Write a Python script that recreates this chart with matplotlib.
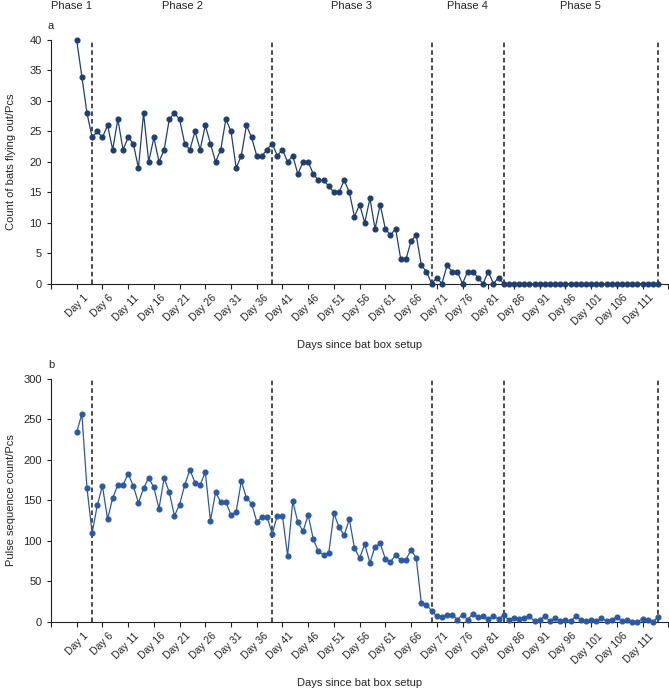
import numpy as np
import matplotlib
matplotlib.use("Agg")
import matplotlib.pyplot as plt
from matplotlib.transforms import ScaledTranslation

plt.rcParams['font.family'] = ['Liberation Sans', 'DejaVu Sans']

# days since the bat box was set up
days = np.arange(1, 115)

# panel a: count of bats flying out
bats_out = [40, 34, 28, 24, 25, 24, 26, 22, 27, 22,
            24, 23, 19, 28, 20, 24, 20, 22, 27, 28,
            27, 23, 22, 25, 22, 26, 23, 20, 22, 27,
            25, 19, 21, 26, 24, 21, 21, 22, 23, 21,
            22, 20, 21, 18, 20, 20, 18, 17, 17, 16,
            15, 15, 17, 15, 11, 13, 10, 14, 9, 13,
            9, 8, 9, 4, 4, 7, 8, 3, 2, 0,
            1, 0, 3, 2, 2, 0, 2, 2, 1, 0,
            2, 0, 1, 0, 0, 0, 0, 0, 0, 0,
            0, 0, 0, 0, 0, 0, 0, 0, 0, 0,
            0, 0, 0, 0, 0, 0, 0, 0, 0, 0,
            0, 0, 0, 0]

# panel b: pulse sequence count
pulse_seq = [234, 257, 165, 110, 144, 168, 127, 153, 169, 169,
             183, 168, 147, 165, 178, 166, 140, 178, 160, 131,
             145, 169, 188, 172, 169, 185, 125, 160, 148, 148,
             132, 136, 174, 153, 146, 124, 129, 130, 109, 131,
             131, 82, 149, 123, 112, 132, 102, 87, 83, 85,
             134, 117, 107, 127, 91, 79, 96, 73, 93, 97,
             78, 74, 83, 76, 77, 89, 79, 23, 21, 14,
             7, 6, 8, 9, 3, 9, 3, 10, 6, 7,
             4, 7, 4, 8, 3, 5, 4, 5, 7, 1,
             3, 7, 1, 5, 1, 3, 1, 7, 3, 1,
             2, 1, 5, 1, 3, 6, 1, 3, 0, 0,
             4, 3, 0, 6]

# phase boundaries (dashed lines) and labels
phase_bounds = [4, 39, 70, 84, 114]
phase_names = ["Phase 1", "Phase 2", "Phase 3", "Phase 4", "Phase 5"]
phase_label_x = [0, 21.5, 54.5, 77, 99]

tick_days = list(range(-4, 117, 5))
tick_labels = [f"Day {d}" if 1 <= d <= 111 else "" for d in tick_days]

text_col = '#262626'

fig = plt.figure(figsize=(6.69, 6.91), dpi=100)
ax_a = fig.add_axes([0.0762, 0.5894, 0.9227, 0.3527])
ax_b = fig.add_axes([0.0762, 0.0999, 0.9227, 0.3517])

# rotated day labels sit a little to the right of their ticks
label_shift = ScaledTranslation(0.06, 0, fig.dpi_scale_trans)


def draw_panel(ax, values, color, ymax, ystep, ylabel, letter):
    ax.plot(days, values, color=color, lw=0.9, marker='o', ms=3.4,
            zorder=3, clip_on=False)
    ax.vlines(phase_bounds, 0, ymax, colors='#1a1a1a',
              linestyles=(0, (3, 2)), lw=1.1, zorder=2)
    ax.set_xlim(-4, 116)
    ax.set_ylim(0, ymax)
    ax.set_yticks(np.arange(0, ymax + 1, ystep))
    ax.set_xticks(tick_days)
    ax.tick_params(axis='y', labelsize=8, labelcolor=text_col, length=3,
                   width=0.8, color='#222222')
    ax.tick_params(axis='x', length=3.5, width=0.8, color='#222222', pad=3)
    ax.set_xticklabels(tick_labels, rotation=45, ha='right', va='top',
                       rotation_mode='anchor', fontsize=7.5, color=text_col)
    # shift after tick_params, otherwise the pad update resets the transform
    for lbl in ax.get_xticklabels():
        lbl.set_transform(lbl.get_transform() + label_shift)
    for side in ['top', 'right']:
        ax.spines[side].set_visible(False)
    for side in ['left', 'bottom']:
        ax.spines[side].set_linewidth(0.8)
        ax.spines[side].set_color('#222222')
    ax.set_ylabel(ylabel, fontsize=8, color=text_col)
    ax.yaxis.set_label_coords(-0.056, 0.5)
    ax.set_xlabel("Days since bat box setup", fontsize=8, color=text_col)
    ax.xaxis.set_label_coords(0.5, -0.23)
    ax.text(0, 1.057, letter, transform=ax.transAxes, ha='center',
            va='center', fontsize=8, color=text_col)


draw_panel(ax_a, bats_out, '#1f3f73', 40, 5, "Count of bats flying out/Pcs", "a")
draw_panel(ax_b, pulse_seq, '#2a5aa6', 300, 50, "Pulse sequence count/Pcs", "b")

for name, xpos in zip(phase_names, phase_label_x):
    ax_a.text(xpos, 1.14, name, transform=ax_a.get_xaxis_transform(),
              ha='center', va='center', fontsize=8, color=text_col)

fig.savefig("out.png", dpi=100)
